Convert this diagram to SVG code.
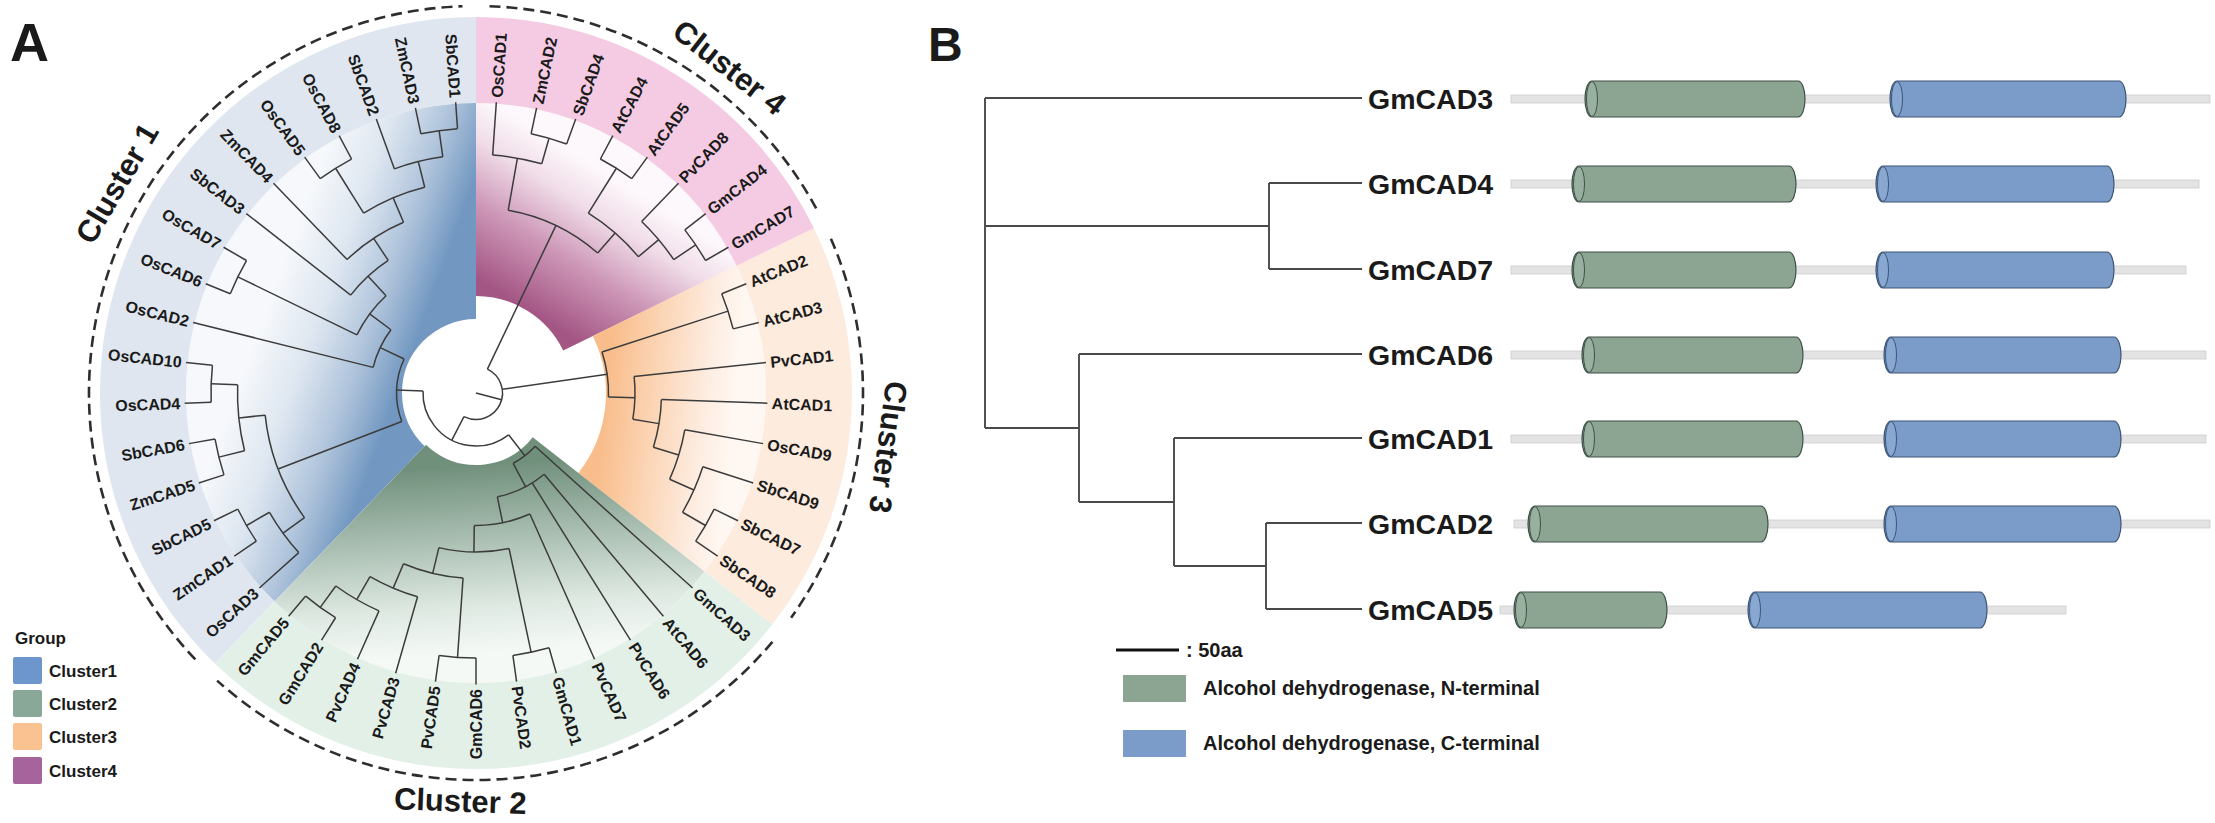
<svg xmlns="http://www.w3.org/2000/svg" width="2215" height="823" viewBox="0 0 2215 823">
<defs>
<style>
text{font-family:"Liberation Sans",Arial,sans-serif;font-weight:bold;fill:#1a1a1a}
.br line,.br circle{stroke:#3c3c3c;stroke-width:1.5;fill:none}
.tip{font-size:16px}
.tl{text-anchor:start}
.tr{text-anchor:end}
.cl{font-size:31px;text-anchor:middle}
.dash{fill:none;stroke:#2e2e2e;stroke-width:2.6;stroke-dasharray:11 6}
.sec{fill:none}
.bt path{stroke:#4a4a4a;stroke-width:1.9;fill:none}
.gl{font-size:28.5px}
.bb{fill:#e3e3e3;stroke:#cdcdcd;stroke-width:0.8}
.dn{fill:#8ca593;stroke:#3f5147;stroke-width:1.2}
.dc{fill:#7b9cc8;stroke:#3d5577;stroke-width:1.2}
.capn{fill:#98b09f;stroke:#3f5147;stroke-width:1}
.capc{fill:#88a8d2;stroke:#3d5577;stroke-width:1}
.lg{font-size:17px}
.lgb{font-size:20px}
</style>
<linearGradient id="gB" gradientUnits="userSpaceOnUse" x1="74" y1="0" x2="225" y2="0" gradientTransform="rotate(66)">
<stop offset="0" stop-color="#7298c1"/><stop offset="0.3" stop-color="#adc2da"/><stop offset="0.65" stop-color="#dde6f0"/><stop offset="1" stop-color="#f6f8fb"/>
</linearGradient>
<linearGradient id="gP" gradientUnits="userSpaceOnUse" x1="97" y1="0" x2="255" y2="0" gradientTransform="rotate(32)">
<stop offset="0" stop-color="#a35583"/><stop offset="0.4" stop-color="#cc95b6"/><stop offset="0.75" stop-color="#f0dce8"/><stop offset="1" stop-color="#fdf8fb"/>
</linearGradient>
<linearGradient id="gO" gradientUnits="userSpaceOnUse" x1="130" y1="0" x2="260" y2="0" gradientTransform="rotate(32)">
<stop offset="0" stop-color="#f9bd8c"/><stop offset="0.35" stop-color="#fbd4b3"/><stop offset="0.75" stop-color="#fdece0"/><stop offset="1" stop-color="#fff8f2"/>
</linearGradient>
<linearGradient id="gG" gradientUnits="userSpaceOnUse" x1="72" y1="0" x2="260" y2="0" gradientTransform="rotate(48)">
<stop offset="0" stop-color="#71907c"/><stop offset="0.4" stop-color="#abc0b3"/><stop offset="0.75" stop-color="#dee9e2"/><stop offset="1" stop-color="#f5f9f6"/>
</linearGradient>
</defs>
<rect width="2215" height="823" fill="#ffffff"/>

<text x="10" y="61" style="font-size:54px">A</text>
<text x="928" y="61" style="font-size:48px">B</text>

<!-- Panel A: circular tree -->
<g id="panelA" transform="translate(476,393)">
  <g id="highlights" class="sec">
    <circle r="182" stroke-width="216" stroke="url(#gB)" pathLength="360" stroke-dasharray="136 999" transform="rotate(134)"/>
    <circle r="193.5" stroke-width="193" stroke="url(#gP)" pathLength="360" stroke-dasharray="64 999" transform="rotate(-90)"/>
    <circle r="210" stroke-width="160" stroke="url(#gO)" pathLength="360" stroke-dasharray="64 999" transform="rotate(-26)"/>
    <circle r="181" stroke-width="218" stroke="url(#gG)" pathLength="360" stroke-dasharray="96 999" transform="rotate(38)"/>
    <circle r="333" stroke-width="86" stroke="#dfe6ef" pathLength="360" stroke-dasharray="136 999" transform="rotate(134)"/>
    <circle r="333" stroke-width="86" stroke="#f5cbe3" pathLength="360" stroke-dasharray="64 999" transform="rotate(-90)"/>
    <circle r="333" stroke-width="86" stroke="#fdebdd" pathLength="360" stroke-dasharray="64 999" transform="rotate(-26)"/>
    <circle r="333" stroke-width="86" stroke="#e2f0e8" pathLength="360" stroke-dasharray="96 999" transform="rotate(38)"/>
  </g>

  <g id="branches" class="br">
    <line x1="0" x2="26.5" transform="rotate(14.8)"/>
    <circle r="26.5" pathLength="360" stroke-dasharray="181.6 999" transform="rotate(-64.5)"/>
    <line x1="26.5" x2="53" transform="rotate(117.1)"/>
    <line x1="26.5" x2="132.5" transform="rotate(-8.125)"/>
    <line x1="26.5" x2="185.5" transform="rotate(-64.5)"/>
    <circle r="53" pathLength="360" stroke-dasharray="130.1 999" transform="rotate(52.06)"/>
    <line x1="53" x2="79.5" transform="rotate(182.156)"/>
    <line x1="53" x2="79.5" transform="rotate(52.06)"/>
    <!-- cluster 1 -->
    <circle r="79.5" pathLength="360" stroke-dasharray="46.31 999" transform="rotate(159)"/>
    <line x1="79.5" x2="106" transform="rotate(205.31)"/>
    <circle r="106" pathLength="360" stroke-dasharray="22.63 999" transform="rotate(194)"/>
    <line x1="106" x2="291.5" transform="rotate(194)"/>
    <line x1="106" x2="132.5" transform="rotate(216.63)"/>
    <circle r="132.5" pathLength="360" stroke-dasharray="21.25 999" transform="rotate(206)"/>
    <line x1="132.5" x2="265" transform="rotate(206)"/>
    <circle r="265" pathLength="360" stroke-dasharray="8 999" transform="rotate(202)"/>
    <line x1="265" x2="291.5" transform="rotate(202)"/>
    <line x1="265" x2="291.5" transform="rotate(210)"/>
    <line x1="132.5" x2="159" transform="rotate(227.25)"/>
    <circle r="159" pathLength="360" stroke-dasharray="18.5 999" transform="rotate(218)"/>
    <line x1="159" x2="291.5" transform="rotate(218)"/>
    <line x1="159" x2="185.5" transform="rotate(236.5)"/>
    <circle r="185.5" pathLength="360" stroke-dasharray="21 999" transform="rotate(226)"/>
    <line x1="185.5" x2="291.5" transform="rotate(226)"/>
    <line x1="185.5" x2="212" transform="rotate(247)"/>
    <circle r="212" pathLength="360" stroke-dasharray="18 999" transform="rotate(238)"/>
    <line x1="212" x2="265" transform="rotate(238)"/>
    <circle r="265" pathLength="360" stroke-dasharray="8 999" transform="rotate(234)"/>
    <line x1="265" x2="291.5" transform="rotate(234)"/>
    <line x1="265" x2="291.5" transform="rotate(242)"/>
    <line x1="212" x2="238.5" transform="rotate(256)"/>
    <circle r="238.5" pathLength="360" stroke-dasharray="12 999" transform="rotate(250)"/>
    <line x1="238.5" x2="291.5" transform="rotate(250)"/>
    <line x1="238.5" x2="265" transform="rotate(262)"/>
    <circle r="265" pathLength="360" stroke-dasharray="8 999" transform="rotate(258)"/>
    <line x1="265" x2="291.5" transform="rotate(258)"/>
    <line x1="265" x2="291.5" transform="rotate(266)"/>
    <line x1="79.5" x2="212" transform="rotate(159)"/>
    <circle r="212" pathLength="360" stroke-dasharray="30 999" transform="rotate(144)"/>
    <line x1="212" x2="238.5" transform="rotate(174)"/>
    <circle r="238.5" pathLength="360" stroke-dasharray="16 999" transform="rotate(166)"/>
    <line x1="238.5" x2="265" transform="rotate(182)"/>
    <circle r="265" pathLength="360" stroke-dasharray="8 999" transform="rotate(178)"/>
    <line x1="265" x2="291.5" transform="rotate(178)"/>
    <line x1="265" x2="291.5" transform="rotate(186)"/>
    <line x1="238.5" x2="265" transform="rotate(166)"/>
    <circle r="265" pathLength="360" stroke-dasharray="8 999" transform="rotate(162)"/>
    <line x1="265" x2="291.5" transform="rotate(162)"/>
    <line x1="265" x2="291.5" transform="rotate(170)"/>
    <line x1="212" x2="238.5" transform="rotate(144)"/>
    <circle r="238.5" pathLength="360" stroke-dasharray="12 999" transform="rotate(138)"/>
    <line x1="238.5" x2="291.5" transform="rotate(138)"/>
    <line x1="238.5" x2="265" transform="rotate(150)"/>
    <circle r="265" pathLength="360" stroke-dasharray="8 999" transform="rotate(146)"/>
    <line x1="265" x2="291.5" transform="rotate(146)"/>
    <line x1="265" x2="291.5" transform="rotate(154)"/>
    <!-- cluster 2 -->
    <circle r="79.5" pathLength="360" stroke-dasharray="20.13 999" transform="rotate(42)"/>
    <line x1="79.5" x2="291.5" transform="rotate(42)"/>
    <line x1="79.5" x2="106" transform="rotate(62.13)"/>
    <circle r="106" pathLength="360" stroke-dasharray="28.38 999" transform="rotate(50)"/>
    <line x1="106" x2="291.5" transform="rotate(50)"/>
    <line x1="106" x2="291.5" transform="rotate(58)"/>
    <line x1="106" x2="132.5" transform="rotate(78.38)"/>
    <circle r="132.5" pathLength="360" stroke-dasharray="24.75 999" transform="rotate(66)"/>
    <line x1="132.5" x2="291.5" transform="rotate(66)"/>
    <line x1="132.5" x2="159" transform="rotate(90.75)"/>
    <circle r="159" pathLength="360" stroke-dasharray="25.5 999" transform="rotate(78)"/>
    <line x1="159" x2="265" transform="rotate(78)"/>
    <circle r="265" pathLength="360" stroke-dasharray="8 999" transform="rotate(74)"/>
    <line x1="265" x2="291.5" transform="rotate(74)"/>
    <line x1="265" x2="291.5" transform="rotate(82)"/>
    <line x1="159" x2="185.5" transform="rotate(103.5)"/>
    <circle r="185.5" pathLength="360" stroke-dasharray="19 999" transform="rotate(94)"/>
    <line x1="185.5" x2="265" transform="rotate(94)"/>
    <circle r="265" pathLength="360" stroke-dasharray="8 999" transform="rotate(90)"/>
    <line x1="265" x2="291.5" transform="rotate(90)"/>
    <line x1="265" x2="291.5" transform="rotate(98)"/>
    <line x1="185.5" x2="212" transform="rotate(113)"/>
    <circle r="212" pathLength="360" stroke-dasharray="14 999" transform="rotate(106)"/>
    <line x1="212" x2="291.5" transform="rotate(106)"/>
    <line x1="212" x2="238.5" transform="rotate(120)"/>
    <circle r="238.5" pathLength="360" stroke-dasharray="12 999" transform="rotate(114)"/>
    <line x1="238.5" x2="291.5" transform="rotate(114)"/>
    <line x1="238.5" x2="265" transform="rotate(126)"/>
    <circle r="265" pathLength="360" stroke-dasharray="8 999" transform="rotate(122)"/>
    <line x1="265" x2="291.5" transform="rotate(122)"/>
    <line x1="265" x2="291.5" transform="rotate(130)"/>
    <!-- cluster 3 -->
    <circle r="132.5" pathLength="360" stroke-dasharray="19.75 999" transform="rotate(-18)"/>
    <line x1="132.5" x2="265" transform="rotate(-18)"/>
    <circle r="265" pathLength="360" stroke-dasharray="8 999" transform="rotate(-22)"/>
    <line x1="265" x2="291.5" transform="rotate(-22)"/>
    <line x1="265" x2="291.5" transform="rotate(-14)"/>
    <line x1="132.5" x2="159" transform="rotate(1.75)"/>
    <circle r="159" pathLength="360" stroke-dasharray="15.5 999" transform="rotate(-6)"/>
    <line x1="159" x2="291.5" transform="rotate(-6)"/>
    <line x1="159" x2="185.5" transform="rotate(9.5)"/>
    <circle r="185.5" pathLength="360" stroke-dasharray="15 999" transform="rotate(2)"/>
    <line x1="185.5" x2="291.5" transform="rotate(2)"/>
    <line x1="185.5" x2="212" transform="rotate(17)"/>
    <circle r="212" pathLength="360" stroke-dasharray="14 999" transform="rotate(10)"/>
    <line x1="212" x2="291.5" transform="rotate(10)"/>
    <line x1="212" x2="238.5" transform="rotate(24)"/>
    <circle r="238.5" pathLength="360" stroke-dasharray="12 999" transform="rotate(18)"/>
    <line x1="238.5" x2="291.5" transform="rotate(18)"/>
    <line x1="238.5" x2="265" transform="rotate(30)"/>
    <circle r="265" pathLength="360" stroke-dasharray="8 999" transform="rotate(26)"/>
    <line x1="265" x2="291.5" transform="rotate(26)"/>
    <line x1="265" x2="291.5" transform="rotate(34)"/>
    <!-- cluster 4 -->
    <circle r="185.5" pathLength="360" stroke-dasharray="31 999" transform="rotate(-80)"/>
    <line x1="185.5" x2="238.5" transform="rotate(-80)"/>
    <circle r="238.5" pathLength="360" stroke-dasharray="12 999" transform="rotate(-86)"/>
    <line x1="238.5" x2="291.5" transform="rotate(-86)"/>
    <line x1="238.5" x2="265" transform="rotate(-74)"/>
    <circle r="265" pathLength="360" stroke-dasharray="8 999" transform="rotate(-78)"/>
    <line x1="265" x2="291.5" transform="rotate(-78)"/>
    <line x1="265" x2="291.5" transform="rotate(-70)"/>
    <line x1="185.5" x2="212" transform="rotate(-49)"/>
    <circle r="212" pathLength="360" stroke-dasharray="18 999" transform="rotate(-58)"/>
    <line x1="212" x2="265" transform="rotate(-58)"/>
    <circle r="265" pathLength="360" stroke-dasharray="8 999" transform="rotate(-62)"/>
    <line x1="265" x2="291.5" transform="rotate(-62)"/>
    <line x1="265" x2="291.5" transform="rotate(-54)"/>
    <line x1="212" x2="238.5" transform="rotate(-40)"/>
    <circle r="238.5" pathLength="360" stroke-dasharray="12 999" transform="rotate(-46)"/>
    <line x1="238.5" x2="291.5" transform="rotate(-46)"/>
    <line x1="238.5" x2="265" transform="rotate(-34)"/>
    <circle r="265" pathLength="360" stroke-dasharray="8 999" transform="rotate(-38)"/>
    <line x1="265" x2="291.5" transform="rotate(-38)"/>
    <line x1="265" x2="291.5" transform="rotate(-30)"/>
  </g>

  <g id="tips" class="tip">
    <g id="t-OsCAD1"><text class="tl" dy="0.36em" transform="rotate(-86) translate(296,0)">OsCAD1</text></g>
    <g id="t-ZmCAD2"><text class="tl" dy="0.36em" transform="rotate(-78) translate(296,0)">ZmCAD2</text></g>
    <g id="t-SbCAD4"><text class="tl" dy="0.36em" transform="rotate(-70) translate(296,0)">SbCAD4</text></g>
    <g id="t-AtCAD4"><text class="tl" dy="0.36em" transform="rotate(-62) translate(296,0)">AtCAD4</text></g>
    <g id="t-AtCAD5"><text class="tl" dy="0.36em" transform="rotate(-54) translate(296,0)">AtCAD5</text></g>
    <g id="t-PvCAD8"><text class="tl" dy="0.36em" transform="rotate(-46) translate(296,0)">PvCAD8</text></g>
    <g id="t-GmCAD4"><text class="tl" dy="0.36em" transform="rotate(-38) translate(296,0)">GmCAD4</text></g>
    <g id="t-GmCAD7"><text class="tl" dy="0.36em" transform="rotate(-30) translate(296,0)">GmCAD7</text></g>
    <g id="t-AtCAD2"><text class="tl" dy="0.36em" transform="rotate(-22) translate(296,0)">AtCAD2</text></g>
    <g id="t-AtCAD3"><text class="tl" dy="0.36em" transform="rotate(-14) translate(296,0)">AtCAD3</text></g>
    <g id="t-PvCAD1"><text class="tl" dy="0.36em" transform="rotate(-6) translate(296,0)">PvCAD1</text></g>
    <g id="t-AtCAD1"><text class="tl" dy="0.36em" transform="rotate(2) translate(296,0)">AtCAD1</text></g>
    <g id="t-OsCAD9"><text class="tl" dy="0.36em" transform="rotate(10) translate(296,0)">OsCAD9</text></g>
    <g id="t-SbCAD9"><text class="tl" dy="0.36em" transform="rotate(18) translate(296,0)">SbCAD9</text></g>
    <g id="t-SbCAD7"><text class="tl" dy="0.36em" transform="rotate(26) translate(296,0)">SbCAD7</text></g>
    <g id="t-SbCAD8"><text class="tl" dy="0.36em" transform="rotate(34) translate(296,0)">SbCAD8</text></g>
    <g id="t-GmCAD3"><text class="tl" dy="0.36em" transform="rotate(42) translate(296,0)">GmCAD3</text></g>
    <g id="t-AtCAD6"><text class="tl" dy="0.36em" transform="rotate(50) translate(296,0)">AtCAD6</text></g>
    <g id="t-PvCAD6"><text class="tl" dy="0.36em" transform="rotate(58) translate(296,0)">PvCAD6</text></g>
    <g id="t-PvCAD7"><text class="tl" dy="0.36em" transform="rotate(66) translate(296,0)">PvCAD7</text></g>
    <g id="t-GmCAD1"><text class="tl" dy="0.36em" transform="rotate(74) translate(296,0)">GmCAD1</text></g>
    <g id="t-PvCAD2"><text class="tl" dy="0.36em" transform="rotate(82) translate(296,0)">PvCAD2</text></g>
    <g id="t-GmCAD6"><text class="tr" dy="0.36em" transform="rotate(-90) translate(-296,0)">GmCAD6</text></g>
    <g id="t-PvCAD5"><text class="tr" dy="0.36em" transform="rotate(-82) translate(-296,0)">PvCAD5</text></g>
    <g id="t-PvCAD3"><text class="tr" dy="0.36em" transform="rotate(-74) translate(-296,0)">PvCAD3</text></g>
    <g id="t-PvCAD4"><text class="tr" dy="0.36em" transform="rotate(-66) translate(-296,0)">PvCAD4</text></g>
    <g id="t-GmCAD2"><text class="tr" dy="0.36em" transform="rotate(-58) translate(-296,0)">GmCAD2</text></g>
    <g id="t-GmCAD5"><text class="tr" dy="0.36em" transform="rotate(-50) translate(-296,0)">GmCAD5</text></g>
    <g id="t-OsCAD3"><text class="tr" dy="0.36em" transform="rotate(-42) translate(-296,0)">OsCAD3</text></g>
    <g id="t-ZmCAD1"><text class="tr" dy="0.36em" transform="rotate(-34) translate(-296,0)">ZmCAD1</text></g>
    <g id="t-SbCAD5"><text class="tr" dy="0.36em" transform="rotate(-26) translate(-296,0)">SbCAD5</text></g>
    <g id="t-ZmCAD5"><text class="tr" dy="0.36em" transform="rotate(-18) translate(-296,0)">ZmCAD5</text></g>
    <g id="t-SbCAD6"><text class="tr" dy="0.36em" transform="rotate(-10) translate(-296,0)">SbCAD6</text></g>
    <g id="t-OsCAD4"><text class="tr" dy="0.36em" transform="rotate(-2) translate(-296,0)">OsCAD4</text></g>
    <g id="t-OsCAD10"><text class="tr" dy="0.36em" transform="rotate(6) translate(-296,0)">OsCAD10</text></g>
    <g id="t-OsCAD2"><text class="tr" dy="0.36em" transform="rotate(14) translate(-296,0)">OsCAD2</text></g>
    <g id="t-OsCAD6"><text class="tr" dy="0.36em" transform="rotate(22) translate(-296,0)">OsCAD6</text></g>
    <g id="t-OsCAD7"><text class="tr" dy="0.36em" transform="rotate(30) translate(-296,0)">OsCAD7</text></g>
    <g id="t-SbCAD3"><text class="tr" dy="0.36em" transform="rotate(38) translate(-296,0)">SbCAD3</text></g>
    <g id="t-ZmCAD4"><text class="tr" dy="0.36em" transform="rotate(46) translate(-296,0)">ZmCAD4</text></g>
    <g id="t-OsCAD5"><text class="tr" dy="0.36em" transform="rotate(54) translate(-296,0)">OsCAD5</text></g>
    <g id="t-OsCAD8"><text class="tr" dy="0.36em" transform="rotate(62) translate(-296,0)">OsCAD8</text></g>
    <g id="t-SbCAD2"><text class="tr" dy="0.36em" transform="rotate(70) translate(-296,0)">SbCAD2</text></g>
    <g id="t-ZmCAD3"><text class="tr" dy="0.36em" transform="rotate(78) translate(-296,0)">ZmCAD3</text></g>
    <g id="t-SbCAD1"><text class="tr" dy="0.36em" transform="rotate(86) translate(-296,0)">SbCAD1</text></g>
  </g>

  <g id="cluster-labels">
    <text class="cl" transform="rotate(300.3) translate(0,-405)">Cluster 1</text>
    <text class="cl" transform="rotate(37.9) translate(0,-402)">Cluster 4</text>
    <text class="cl" transform="rotate(97.5) translate(0,-405)">Cluster 3</text>
    <text class="cl" transform="rotate(2.2) translate(0,419)">Cluster 2</text>
  </g>
</g>

<g id="cluster-arcs">
  <path class="dash" d="M489.5,6.2 A387,387 0 0 1 817.7,211.3"/>
  <path class="dash" d="M830.9,238.7 A387,387 0 0 1 791.1,617.7"/>
  <path class="dash" d="M772.4,641.8 A387,387 0 0 1 217.1,680.6"/>
  <path class="dash" d="M195.3,659.4 A387,387 0 0 1 462.5,6.2"/>
</g>

<g id="legendA" class="lg">
  <text x="15" y="644">Group</text>
  <g id="lg-c1"><rect x="13" y="657" width="29" height="27" rx="2" fill="#6d97cc"/><text x="49" y="677">Cluster1</text></g>
  <g id="lg-c2"><rect x="13" y="690" width="29" height="27" rx="2" fill="#8aa898"/><text x="49" y="710">Cluster2</text></g>
  <g id="lg-c3"><rect x="13" y="723" width="29" height="27" rx="2" fill="#fbc291"/><text x="49" y="743">Cluster3</text></g>
  <g id="lg-c4"><rect x="13" y="757" width="29" height="27" rx="2" fill="#a5649c"/><text x="49" y="777">Cluster4</text></g>
</g>

<!-- Panel B -->
<g id="treeB" class="bt">
  <path d="M985,98 V428 M985,98 H1362"/>
  <path d="M985,226 H1269 M1269,183 V269 M1269,183 H1362 M1269,269 H1362"/>
  <path d="M985,428 H1079 M1079,354 V502 M1079,354 H1362"/>
  <path d="M1079,502 H1174 M1174,438 V566 M1174,438 H1362"/>
  <path d="M1174,566 H1266 M1266,523 V609 M1266,523 H1362 M1266,609 H1362"/>
</g>

<g id="labelsB" class="gl">
  <text x="1368" y="109">GmCAD3</text>
  <text x="1368" y="194">GmCAD4</text>
  <text x="1368" y="280">GmCAD7</text>
  <text x="1368" y="365">GmCAD6</text>
  <text x="1368" y="449">GmCAD1</text>
  <text x="1368" y="534">GmCAD2</text>
  <text x="1368" y="620">GmCAD5</text>
</g>

<g id="domains">
  <g id="row-GmCAD3">
    <rect class="bb" x="1511" y="95" width="699" height="8"/>
    <rect class="dn" x="1585" y="81" width="220" height="36" rx="7" ry="18"/><ellipse class="capn" cx="1592" cy="99" rx="5.5" ry="17.5"/>
    <rect class="dc" x="1890" y="81" width="236" height="36" rx="7" ry="18"/><ellipse class="capc" cx="1897" cy="99" rx="5.5" ry="17.5"/>
  </g>
  <g id="row-GmCAD4">
    <rect class="bb" x="1511" y="180" width="688" height="8"/>
    <rect class="dn" x="1572" y="166" width="224" height="36" rx="7" ry="18"/><ellipse class="capn" cx="1579" cy="184" rx="5.5" ry="17.5"/>
    <rect class="dc" x="1876" y="166" width="238" height="36" rx="7" ry="18"/><ellipse class="capc" cx="1883" cy="184" rx="5.5" ry="17.5"/>
  </g>
  <g id="row-GmCAD7">
    <rect class="bb" x="1511" y="266" width="675" height="8"/>
    <rect class="dn" x="1572" y="252" width="224" height="36" rx="7" ry="18"/><ellipse class="capn" cx="1579" cy="270" rx="5.5" ry="17.5"/>
    <rect class="dc" x="1876" y="252" width="238" height="36" rx="7" ry="18"/><ellipse class="capc" cx="1883" cy="270" rx="5.5" ry="17.5"/>
  </g>
  <g id="row-GmCAD6">
    <rect class="bb" x="1511" y="351" width="695" height="8"/>
    <rect class="dn" x="1582" y="337" width="221" height="36" rx="7" ry="18"/><ellipse class="capn" cx="1589" cy="355" rx="5.5" ry="17.5"/>
    <rect class="dc" x="1884" y="337" width="237" height="36" rx="7" ry="18"/><ellipse class="capc" cx="1891" cy="355" rx="5.5" ry="17.5"/>
  </g>
  <g id="row-GmCAD1">
    <rect class="bb" x="1511" y="435" width="695" height="8"/>
    <rect class="dn" x="1582" y="421" width="221" height="36" rx="7" ry="18"/><ellipse class="capn" cx="1589" cy="439" rx="5.5" ry="17.5"/>
    <rect class="dc" x="1884" y="421" width="237" height="36" rx="7" ry="18"/><ellipse class="capc" cx="1891" cy="439" rx="5.5" ry="17.5"/>
  </g>
  <g id="row-GmCAD2">
    <rect class="bb" x="1514" y="520" width="696" height="8"/>
    <rect class="dn" x="1528" y="506" width="240" height="36" rx="7" ry="18"/><ellipse class="capn" cx="1535" cy="524" rx="5.5" ry="17.5"/>
    <rect class="dc" x="1884" y="506" width="237" height="36" rx="7" ry="18"/><ellipse class="capc" cx="1891" cy="524" rx="5.5" ry="17.5"/>
  </g>
  <g id="row-GmCAD5">
    <rect class="bb" x="1500" y="606" width="566" height="8"/>
    <rect class="dn" x="1514" y="592" width="153" height="36" rx="7" ry="18"/><ellipse class="capn" cx="1521" cy="610" rx="5.5" ry="17.5"/>
    <rect class="dc" x="1748" y="592" width="239" height="36" rx="7" ry="18"/><ellipse class="capc" cx="1755" cy="610" rx="5.5" ry="17.5"/>
  </g>
</g>

<g id="legendB" class="lgb">
  <line x1="1116" y1="650" x2="1179" y2="650" stroke="#111" stroke-width="3"/>
  <text x="1186" y="657">: 50aa</text>
  <g id="lgB-N"><rect x="1123" y="675" width="63" height="27" fill="#8ca593"/><text x="1203" y="695">Alcohol dehydrogenase, N-terminal</text></g>
  <g id="lgB-C"><rect x="1123" y="730" width="63" height="27" fill="#7b9cc8"/><text x="1203" y="750">Alcohol dehydrogenase, C-terminal</text></g>
</g>
</svg>
